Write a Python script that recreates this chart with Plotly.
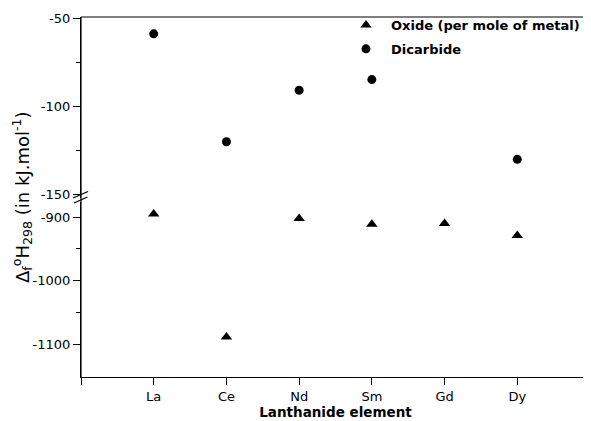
import plotly.graph_objects as go

elements = ["La", "Ce", "Nd", "Sm", "Gd", "Dy"]
elem_pos = [1, 2, 3, 4, 5, 6]

oxide_x = [1, 2, 3, 4, 5, 6]
oxide_y = [-895, -1089, -902, -911, -910, -929]

dicarbide_x = [1, 2, 3, 4, 6]
dicarbide_y = [-58.6, -120, -90.7, -84.6, -130]

upper_ticks = [-50, -100, -150]
lower_ticks = [-900, -1000, -1100]

OFF = 8  # page body margin
W, H = 591 - OFF, 421 - OFF
L, R, T, B = 81 - OFF, 1, 17 - OFF, 44
PW, PH = W - L - R, H - T - B

def px(x):
    return (x - OFF - L) / PW

def py(y):
    return (H - B - (y - OFF)) / PH

font = "DejaVu Sans, Liberation Sans, sans-serif"

fig = go.Figure()
fig.add_trace(go.Scatter(
    x=oxide_x, y=oxide_y, mode="markers", name="Oxide (per mole of metal)",
    legendgroup="a",
    marker=dict(symbol="triangle-up", size=10, color="black"), yaxis="y", xaxis="x"))
fig.add_trace(go.Scatter(
    x=dicarbide_x, y=dicarbide_y, mode="markers", name="Dicarbide",
    legendgroup="b",
    marker=dict(symbol="circle", size=9, color="black"), yaxis="y2", xaxis="x"))

axis_common = dict(showgrid=False, zeroline=False, showline=True, linecolor="black",
                   linewidth=1.2, ticks="outside", tickcolor="black", ticklen=7,
                   tickfont=dict(family=font, size=13, color="black"))

fig.update_layout(
    width=W, height=H,
    margin=dict(l=L, r=R, t=T, b=B, autoexpand=False),
    paper_bgcolor="white", plot_bgcolor="white",
    xaxis=dict(range=[0, 7], tickmode="array", tickvals=[0] + elem_pos + [7],
               ticktext=[""] + elements + [""], anchor="y",
               title=dict(text="<b>Lanthanide element</b>", font=dict(family=font, size=13.5, color="black"), standoff=2),
               **axis_common),
    yaxis=dict(domain=[0, py(202)], range=[-1152, -876], tickmode="array", tickvals=lower_ticks,
               ticktext=[str(v) for v in lower_ticks],
               minor=dict(tickvals=[-950, -1050], ticklen=4, ticks="outside", tickcolor="black"),
               anchor="x", **axis_common),
    yaxis2=dict(domain=[py(198), 1], range=[-152, -49], tickmode="array", tickvals=upper_ticks,
                ticktext=[str(v) for v in upper_ticks],
                minor=dict(tickvals=[-75, -125], ticklen=4, ticks="outside", tickcolor="black"),
                anchor="x", **axis_common),
    legend=dict(x=px(341), y=py(10), xanchor="left", yanchor="top",
                bgcolor="rgba(0,0,0,0)", borderwidth=0,
                font=dict(family=font, size=13, color="black", weight="bold"),
                tracegroupgap=4, itemwidth=40),
    showlegend=True,
)

shapes = [
    dict(type="line", xref="paper", yref="paper", x0=0, x1=0, y0=0, y1=1,
         line=dict(color="black", width=1.2)),
    dict(type="line", xref="paper", yref="paper", x0=0, x1=1, y0=1, y1=1,
         line=dict(color="black", width=1.2)),
    dict(type="line", xref="paper", yref="paper", x0=1, x1=1, y0=0, y1=1,
         line=dict(color="#555555", width=1)),
    dict(type="line", xref="paper", yref="paper", x0=px(73), x1=px(88), y0=py(198), y1=py(191.5),
         line=dict(color="black", width=1.2)),
    dict(type="line", xref="paper", yref="paper", x0=px(74), x1=px(87.5), y0=py(203), y1=py(197),
         line=dict(color="black", width=1.2)),
]
fig.update_layout(shapes=shapes)

fig.add_annotation(
    text="Δ<sub>f</sub><sup>o</sup>H<sub>298</sub> (in kJ.mol<sup>-1</sup>)",
    xref="paper", yref="paper", x=px(22), y=py(197), textangle=-90, showarrow=False,
    font=dict(family=font, size=18, color="black"), xanchor="center", yanchor="middle")

fig.write_html("out.html")
